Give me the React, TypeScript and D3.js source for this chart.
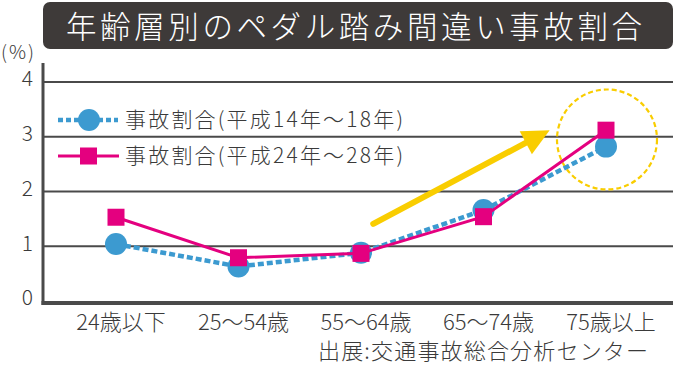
import React, { useEffect, useRef } from 'react';
import * as d3 from 'd3';

// age groups on the x axis
const ageGroups = ['24歳以下', '25〜54歳', '55〜64歳', '65〜74歳', '75歳以上'];
// accident share (%) per age group
const seriesH14_18 = [1.04, 0.63, 0.88, 1.66, 2.82];
const seriesH24_28 = [1.53, 0.79, 0.87, 1.54, 3.12];
const legendLabels = ['事故割合(平成14年〜18年)', '事故割合(平成24年〜28年)'];
const yTicks = [0, 1, 2, 3, 4];
const titleText = '年齢層別のペダル踏み間違い事故割合';
const sourceText = '出展:交通事故総合分析センター';

const FONT = '"Noto Sans CJK JP", "Noto Sans", sans-serif';

const App = () => {
  const svgRef = useRef(null);

  useEffect(() => {
    const svg = d3.select(svgRef.current);
    svg.selectAll('*').remove();

    const axisColor = '#4a4a4a';
    const textColor = '#3a3a3a';
    const blue = '#3c9ad0';
    const pink = '#e4007f';
    const yellow = '#f9cd00';

    // scales
    const x = d3.scalePoint().domain(ageGroups).range([116, 606]);
    const xi = d3.scaleLinear().domain([0, ageGroups.length - 1]).range([116, 606]);
    const y = d3.scaleLinear().domain([0, 4]).range([301, 82]);

    // title box
    svg.append('rect')
      .attr('x', 43).attr('y', 2)
      .attr('width', 630).attr('height', 47)
      .attr('rx', 7)
      .attr('fill', '#3e3a39');
    svg.append('text')
      .attr('x', 66).attr('y', 38)
      .attr('textLength', 576)
      .attr('lengthAdjust', 'spacing')
      .attr('font-family', FONT)
      .attr('font-size', 30.5)
      .attr('font-weight', 300)
      .attr('fill', '#fff')
      .text(titleText);

    // unit label
    svg.append('text')
      .attr('x', 1).attr('y', 52)
      .attr('dy', '0.35em')
      .attr('textLength', 33)
      .attr('lengthAdjust', 'spacing')
      .attr('font-family', FONT)
      .attr('font-size', 19)
      .attr('font-weight', 300)
      .attr('fill', textColor)
      .text('(%)');

    // gridlines
    svg.append('g')
      .selectAll('line')
      .data(yTicks.filter(d => d > 0))
      .enter()
      .append('line')
      .attr('x1', 43).attr('x2', 673)
      .attr('y1', d => y(d)).attr('y2', d => y(d))
      .attr('stroke', axisColor)
      .attr('stroke-width', 2);

    // axes
    svg.append('line')
      .attr('x1', 43).attr('x2', 43)
      .attr('y1', 63).attr('y2', 305)
      .attr('stroke', axisColor)
      .attr('stroke-width', 3);
    svg.append('line')
      .attr('x1', 41.5).attr('x2', 673)
      .attr('y1', y(0) + 2).attr('y2', y(0) + 2)
      .attr('stroke', axisColor)
      .attr('stroke-width', 4);

    // y tick labels
    svg.append('g')
      .selectAll('text')
      .data(yTicks)
      .enter()
      .append('text')
      .attr('x', 33)
      .attr('y', d => y(d) - 3)
      .attr('dy', '0.35em')
      .attr('text-anchor', 'end')
      .attr('font-family', FONT)
      .attr('font-size', 21)
      .attr('font-weight', 300)
      .attr('fill', textColor)
      .text(d => d);

    // x tick labels
    svg.append('g')
      .selectAll('text')
      .data(ageGroups)
      .enter()
      .append('text')
      .attr('x', d => x(d) + 5)
      .attr('y', 330)
      .attr('text-anchor', 'middle')
      .attr('font-family', FONT)
      .attr('font-size', 22)
      .attr('font-weight', 300)
      .attr('fill', textColor)
      .text(d => d);

    // source
    svg.append('text')
      .attr('x', 318).attr('y', 359)
      .attr('textLength', 330)
      .attr('lengthAdjust', 'spacing')
      .attr('font-family', FONT)
      .attr('font-size', 22)
      .attr('font-weight', 300)
      .attr('fill', textColor)
      .text(sourceText);

    // yellow arrow (annotation, in category-index / value space)
    const arrowFrom = [2.1, 1.41];
    const arrowTo = [3.54, 3.12];
    const x1 = xi(arrowFrom[0]), y1 = y(arrowFrom[1]);
    const x2 = xi(arrowTo[0]), y2 = y(arrowTo[1]);
    const ang = Math.atan2(y2 - y1, x2 - x1);
    const headLen = 27, headW = 13;
    const bx = x2 - headLen * Math.cos(ang), by = y2 - headLen * Math.sin(ang);
    svg.append('line')
      .attr('x1', x1).attr('y1', y1)
      .attr('x2', bx + 2 * Math.cos(ang)).attr('y2', by + 2 * Math.sin(ang))
      .attr('stroke', yellow)
      .attr('stroke-width', 6)
      .attr('stroke-linecap', 'round');
    svg.append('path')
      .attr('d', `M${x2},${y2}L${bx - headW * Math.sin(ang)},${by + headW * Math.cos(ang)}L${bx + headW * Math.sin(ang)},${by - headW * Math.cos(ang)}Z`)
      .attr('fill', yellow);

    // dashed highlight circle round the last group
    svg.append('circle')
      .attr('cx', x(ageGroups[4]) + 1)
      .attr('cy', y(2.95))
      .attr('r', 50)
      .attr('fill', 'none')
      .attr('stroke', yellow)
      .attr('stroke-width', 2.2)
      .attr('stroke-dasharray', '5,3');

    const line = d3.line().x((d, i) => x(ageGroups[i])).y(d => y(d));

    // series 1: blue dotted with circles
    svg.append('path')
      .datum(seriesH14_18)
      .attr('d', line)
      .attr('fill', 'none')
      .attr('stroke', blue)
      .attr('stroke-width', 4.5)
      .attr('stroke-dasharray', '6,3');
    svg.append('g')
      .selectAll('circle')
      .data(seriesH14_18)
      .enter()
      .append('circle')
      .attr('cx', (d, i) => x(ageGroups[i]))
      .attr('cy', d => y(d))
      .attr('r', 11)
      .attr('fill', blue);

    // series 2: pink solid with squares
    svg.append('path')
      .datum(seriesH24_28)
      .attr('d', line)
      .attr('fill', 'none')
      .attr('stroke', pink)
      .attr('stroke-width', 3);
    const sq = 17;
    svg.append('g')
      .selectAll('rect')
      .data(seriesH24_28)
      .enter()
      .append('rect')
      .attr('x', (d, i) => x(ageGroups[i]) - sq / 2)
      .attr('y', d => y(d) - sq / 2)
      .attr('width', sq).attr('height', sq)
      .attr('fill', pink);

    // legend
    const lg = svg.append('g');
    lg.append('line')
      .attr('x1', 58).attr('x2', 118)
      .attr('y1', 120).attr('y2', 120)
      .attr('stroke', blue)
      .attr('stroke-width', 4.5)
      .attr('stroke-dasharray', '5,3');
    lg.append('circle')
      .attr('cx', 89).attr('cy', 120).attr('r', 11)
      .attr('fill', blue);
    lg.append('line')
      .attr('x1', 58).attr('x2', 119)
      .attr('y1', 156).attr('y2', 156)
      .attr('stroke', pink)
      .attr('stroke-width', 3);
    lg.append('rect')
      .attr('x', 80).attr('y', 147.5)
      .attr('width', sq).attr('height', sq)
      .attr('fill', pink);
    lg.selectAll('text')
      .data(legendLabels)
      .enter()
      .append('text')
      .attr('x', 125)
      .attr('y', (d, i) => 120 + i * 36)
      .attr('dy', '0.35em')
      .attr('textLength', 278)
      .attr('lengthAdjust', 'spacing')
      .attr('font-family', FONT)
      .attr('font-size', 21)
      .attr('font-weight', 300)
      .attr('fill', textColor)
      .text(d => d);
  }, []);

  return (
    <svg
      ref={svgRef}
      width={675}
      height={365}
      style={{ position: 'absolute', left: 0, top: 0, background: '#fff' }}
    ></svg>
  );
};

export default App;
